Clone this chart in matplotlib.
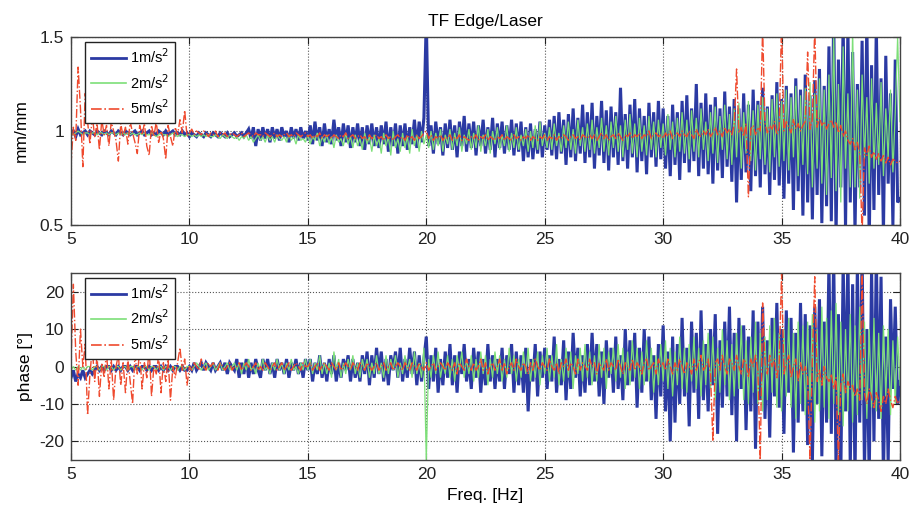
import numpy as np
import matplotlib
matplotlib.use("Agg")
import matplotlib.pyplot as plt

plt.rcParams['font.family'] = ['Liberation Sans', 'DejaVu Sans']
plt.rcParams['axes.unicode_minus'] = False

# Frequency axis: 5 .. 40 Hz in 0.1 Hz bins
freq = np.round(np.arange(350 + 1) * 0.1 + 5.0, 1)

series_labels = ['1m/s$^2$', '2m/s$^2$', '5m/s$^2$']

# Magnitude of the transfer function (mm/mm), one row per Hz
mag_1 = [
    0.98, 1.00, 0.97, 1.01, 0.98, 0.99, 1.00, 0.98, 1.00, 0.99,
    0.98, 1.00, 0.99, 0.98, 1.00, 0.99, 0.98, 1.00, 0.99, 0.98,
    1.00, 0.99, 0.98, 1.00, 0.99, 0.98, 0.99, 1.00, 0.98, 0.99,
    1.00, 0.98, 0.99, 1.00, 0.98, 0.99, 0.98, 1.00, 0.99, 0.98,
    1.00, 0.98, 0.99, 1.00, 0.98, 0.99, 0.98, 1.00, 0.98, 0.99,
    0.97, 0.99, 0.98, 0.97, 0.99, 0.98, 0.97, 0.99, 0.98, 0.97,
    0.99, 0.98, 0.97, 0.99, 0.98, 0.97, 0.99, 0.97, 0.98, 0.99,
    0.97, 0.98, 0.99, 0.97, 0.99, 1.01, 0.96, 1.02, 0.92, 1.01,
    0.95, 1.02, 0.96, 1.01, 0.94, 1.02, 0.96, 1.01, 0.95, 1.02,
    0.97, 1.00, 0.94, 1.02, 0.96, 1.01, 0.95, 1.02, 0.96, 1.00,
    0.95, 1.03, 0.93, 1.05, 0.95, 1.02, 0.92, 1.04, 0.94, 1.01,
    0.93, 1.06, 0.95, 1.02, 0.92, 1.04, 0.94, 1.03, 0.91, 1.02,
    0.94, 1.04, 0.92, 1.02, 0.90, 1.03, 0.93, 1.04, 0.92, 1.02,
    0.91, 1.03, 0.93, 1.05, 0.89, 1.02, 0.92, 1.04, 0.88, 1.03,
    0.92, 1.04, 0.90, 1.02, 0.93, 1.06, 0.91, 1.05, 0.94, 1.07,
    1.60, 0.92, 1.03, 0.88, 1.05, 0.93, 1.02, 0.87, 1.04, 0.91,
    1.06, 0.90, 1.03, 0.86, 1.05, 0.92, 1.08, 0.89, 1.04, 0.91,
    1.05, 0.87, 1.03, 0.92, 1.06, 0.88, 1.02, 0.90, 1.07, 0.86,
    1.04, 0.91, 1.05, 0.88, 1.03, 0.90, 1.06, 0.87, 1.04, 0.89,
    1.05, 0.84, 1.02, 0.86, 1.04, 0.85, 1.01, 0.88, 1.05, 0.86,
    1.03, 0.90, 1.06, 0.87, 1.08, 0.85, 1.10, 0.88, 1.06, 0.82,
    1.09, 0.86, 1.12, 0.84, 1.07, 0.88, 1.14, 0.83, 1.10, 0.86,
    1.15, 0.80, 1.08, 0.87, 1.16, 0.83, 1.11, 0.79, 1.13, 0.86,
    1.10, 0.82, 1.23, 0.84, 1.09, 0.80, 1.14, 0.86, 1.17, 0.78,
    1.12, 0.84, 1.08, 0.77, 1.15, 0.86, 1.10, 0.81, 1.16, 0.85,
    1.12, 0.80, 1.08, 0.76, 1.14, 0.82, 1.10, 0.74, 1.16, 0.83,
    1.19, 0.78, 1.12, 0.84, 1.25, 0.76, 1.15, 0.80, 1.20, 0.77,
    1.14, 0.72, 1.18, 0.79, 1.12, 0.75, 1.21, 0.81, 1.13, 0.73,
    1.17, 0.62, 1.12, 0.74, 1.20, 0.78, 1.14, 0.68, 1.22, 0.76,
    1.16, 0.70, 1.23, 0.77, 1.13, 0.66, 1.19, 0.74, 1.26, 0.71,
    1.17, 0.64, 1.24, 0.72, 1.20, 0.58, 1.28, 0.68, 1.22, 0.55,
    1.30, 0.62, 1.19, 0.53, 1.27, 0.66, 1.33, 0.51, 1.24, 0.60,
    1.45, 0.52, 1.62, 0.44, 1.38, 0.70, 1.58, 0.48, 1.55, 0.62,
    1.42, 0.46, 1.25, 0.70, 1.48, 0.55, 1.60, 0.40, 1.35, 0.58,
    1.56, 0.66, 1.28, 0.45, 1.40, 0.72, 1.20, 0.50, 1.38, 0.62,
    0.64,
]

mag_2 = [
    0.99, 0.98, 0.99, 1.00, 0.99, 0.98, 0.99, 0.99, 0.98, 0.99,
    0.99, 0.98, 0.99, 0.99, 0.98, 0.99, 0.98, 0.99, 0.99, 0.98,
    0.99, 0.98, 0.99, 0.98, 0.99, 0.98, 0.99, 0.98, 0.98, 0.99,
    0.98, 0.99, 0.98, 0.98, 0.99, 0.98, 0.97, 0.98, 0.99, 0.98,
    0.98, 0.97, 0.98, 0.99, 0.98, 0.97, 0.98, 0.98, 0.97, 0.98,
    0.98, 0.97, 0.98, 0.97, 0.98, 0.97, 0.98, 0.97, 0.98, 0.97,
    0.97, 0.98, 0.97, 0.96, 0.98, 0.97, 0.96, 0.98, 0.97, 0.96,
    0.97, 0.95, 0.97, 0.96, 0.98, 0.95, 0.97, 0.94, 0.96, 0.98,
    0.95, 0.97, 0.94, 0.98, 0.95, 0.97, 0.94, 0.98, 0.96, 0.95,
    0.97, 0.94, 0.98, 0.95, 0.97, 0.93, 0.98, 0.95, 0.96, 0.94,
    0.98, 0.93, 0.97, 0.95, 0.99, 0.92, 0.97, 0.94, 0.98, 0.93,
    0.97, 0.91, 0.98, 0.94, 0.96, 0.92, 0.99, 0.93, 0.97, 0.91,
    0.98, 0.92, 0.96, 0.90, 0.99, 0.93, 0.97, 0.89, 0.98, 0.92,
    0.96, 0.88, 0.99, 0.92, 0.97, 0.87, 1.00, 0.91, 0.96, 0.89,
    0.99, 0.91, 0.97, 0.88, 1.01, 0.92, 0.98, 0.89, 1.00, 0.93,
    0.98, 0.91, 1.00, 0.90, 0.99, 0.92, 1.01, 0.89, 0.98, 0.93,
    1.01, 0.90, 0.99, 0.92, 1.02, 0.89, 0.98, 0.93, 1.01, 0.90,
    0.99, 0.91, 1.03, 0.89, 0.98, 0.92, 1.01, 0.88, 1.00, 0.93,
    1.02, 0.90, 0.98, 0.92, 1.03, 0.89, 0.99, 0.91, 1.02, 0.90,
    0.98, 0.92, 1.01, 0.89, 1.00, 0.91, 1.03, 0.90, 1.05, 0.92,
    0.99, 0.91, 1.02, 0.90, 1.04, 0.92, 0.99, 0.89, 1.03, 0.91,
    1.05, 0.90, 1.01, 0.88, 1.06, 0.92, 1.02, 0.89, 1.04, 0.90,
    1.06, 0.88, 1.02, 0.91, 1.07, 0.89, 1.03, 0.87, 1.05, 0.91,
    1.08, 0.89, 1.03, 0.86, 1.06, 0.90, 1.09, 0.88, 1.04, 0.86,
    1.07, 0.89, 1.03, 0.87, 1.08, 0.90, 1.05, 0.86, 1.06, 0.91,
    1.04, 0.87, 1.09, 0.90, 1.05, 0.86, 1.07, 0.89, 1.10, 0.88,
    1.06, 0.85, 1.11, 0.89, 1.07, 0.86, 1.12, 0.90, 1.05, 0.84,
    1.10, 0.88, 1.13, 0.83, 1.08, 0.90, 1.14, 0.85, 1.09, 0.82,
    1.12, 0.86, 1.15, 0.80, 1.10, 0.88, 1.16, 0.84, 1.11, 0.79,
    1.14, 0.85, 1.18, 0.82, 1.12, 0.78, 1.17, 0.86, 1.20, 0.81,
    1.16, 0.84, 1.22, 0.79, 1.18, 0.86, 1.24, 0.76, 1.19, 0.82,
    1.23, 0.77, 1.26, 0.70, 1.20, 0.80, 1.28, 0.72, 1.22, 0.66,
    1.30, 0.75, 1.52, 0.68, 1.25, 0.62, 1.45, 0.80, 1.20, 0.70,
    1.55, 0.70, 1.22, 0.64, 1.30, 0.85, 1.18, 0.72, 1.28, 0.80,
    1.15, 0.82, 1.26, 0.76, 1.12, 0.85, 1.22, 0.78, 1.10, 1.50,
    1.05,
]

mag_5 = [
    0.82, 1.02, 0.95, 1.34, 1.12, 0.81, 1.20, 1.05, 0.93, 1.08,
    0.97, 1.04, 0.90, 1.06, 0.98, 1.03, 0.92, 1.05, 1.00, 0.95,
    0.84, 1.04, 0.97, 1.02, 0.93, 1.05, 0.99, 0.94, 0.88, 1.03,
    0.98, 1.04, 0.92, 0.87, 1.03, 0.97, 1.05, 0.94, 1.00, 0.96,
    0.85, 1.03, 0.97, 0.92, 1.02, 0.98, 1.06, 0.99, 1.11, 0.97,
    0.99, 1.01, 0.98, 1.00, 0.99, 0.98, 1.00, 0.99, 0.97, 0.99,
    0.98, 1.00, 0.97, 0.99, 0.98, 0.99, 0.97, 0.98, 0.99, 0.98,
    0.97, 0.98, 0.99, 0.97, 0.98, 0.99, 0.98, 0.97, 0.99, 0.98,
    0.98, 0.97, 0.99, 0.98, 0.97, 0.98, 0.99, 0.97, 0.98, 0.97,
    0.98, 0.99, 0.97, 0.98, 0.97, 0.99, 0.98, 0.97, 0.98, 0.99,
    0.97, 0.98, 0.96, 0.98, 0.97, 0.99, 0.96, 0.98, 0.97, 0.98,
    0.96, 0.98, 0.97, 0.96, 0.98, 0.97, 0.99, 0.96, 0.97, 0.98,
    0.96, 0.97, 0.98, 0.96, 0.97, 0.95, 0.98, 0.96, 0.97, 0.98,
    0.96, 0.97, 0.95, 0.98, 0.96, 0.97, 0.95, 0.97, 0.98, 0.96,
    0.97, 0.95, 0.98, 0.96, 0.97, 0.95, 0.98, 0.96, 0.97, 0.99,
    1.00, 0.96, 0.98, 0.95, 0.97, 0.96, 0.98, 0.95, 0.97, 0.96,
    0.98, 0.95, 0.97, 0.96, 0.98, 0.95, 0.97, 0.96, 0.95, 0.97,
    0.96, 0.98, 0.95, 0.97, 0.96, 0.98, 0.95, 0.97, 0.96, 0.95,
    0.97, 0.96, 0.98, 0.95, 0.97, 0.96, 0.95, 0.98, 0.96, 0.97,
    0.95, 0.97, 0.96, 0.98, 0.95, 0.97, 0.96, 0.95, 0.97, 0.96,
    0.98, 0.95, 0.97, 0.96, 0.98, 0.95, 0.97, 0.96, 0.98, 0.97,
    0.95, 0.97, 0.98, 0.96, 0.97, 0.95, 0.98, 0.97, 0.96, 0.98,
    0.96, 0.98, 0.95, 0.97, 0.99, 0.96, 0.98, 0.95, 0.97, 0.98,
    0.96, 0.99, 0.97, 0.95, 0.98, 0.97, 0.99, 0.96, 0.98, 0.97,
    0.99, 0.96, 0.98, 0.97, 1.00, 0.96, 0.98, 0.99, 0.97, 0.98,
    0.96, 0.99, 0.97, 1.00, 0.96, 0.98, 0.99, 0.97, 1.00, 0.98,
    0.97, 1.00, 0.98, 0.96, 1.01, 0.98, 0.97, 1.00, 0.98, 1.01,
    0.97, 0.99, 1.02, 0.98, 1.00, 0.97, 1.02, 0.99, 1.01, 0.98,
    1.03, 1.33, 0.99, 1.02, 0.97, 1.04, 0.65, 1.01, 1.03, 0.98,
    1.02, 1.00, 1.55, 1.04, 0.99, 1.03, 1.01, 1.05, 0.98, 1.02,
    1.58, 1.00, 1.05, 1.02, 0.99, 1.06, 1.01, 1.04, 1.00, 1.03,
    1.05, 1.42, 1.01, 1.06, 1.55, 1.02, 1.07, 1.03, 1.05, 1.01,
    1.04, 1.06, 1.02, 1.05, 0.99, 1.03, 0.97, 1.00, 0.95, 0.93,
    0.96, 0.90, 0.94, 0.88, 0.45, 0.91, 0.87, 0.92, 0.86, 0.89,
    0.85, 0.88, 0.84, 0.87, 0.83, 0.86, 0.82, 0.85, 0.84, 0.83,
    0.84,
]

# Phase of the transfer function (degrees), one row per Hz
phase_1 = [
    -3, -1, -4, -2, -3, -1, -3, -2, -1, -2,
    -1, 0, -1, 0, -1, 0, 0, -1, 0, -1,
    0, -1, 0, 0, -1, 0, -1, 0, 0, -1,
    0, 0, -1, 0, -1, 0, 0, -1, 0, -1,
    0, -1, 0, -1, 0, 0, -1, 0, -1, -1,
    0, -1, 1, -1, 0, 1, -1, 1, 0, -1,
    1, -1, 0, 1, -1, 1, -2, 1, 0, -1,
    2, -3, 1, -2, 2, -3, 1, -2, 2, -1,
    -3, 2, -1, 2, -2, 1, -3, 2, -1, 1,
    -2, 2, -3, 1, -1, 2, -2, 1, -3, 2,
    -1, 2, -4, 1, -2, 3, -3, 1, -4, 2,
    -2, 3, -4, 1, -3, 2, -1, 3, -4, 2,
    -3, 1, -4, 3, -2, 4, -5, 3, -3, 5,
    -2, 4, -4, 2, -5, 3, -1, 4, -3, 5,
    -4, 2, -3, 5, -2, 4, -5, 3, -4, 2,
    8, -6, 3, -4, 5, -7, 2, -5, 4, -3,
    6, -5, 3, -7, 4, -2, 6, -4, 2, -6,
    5, -3, 4, -7, 2, -5, 6, -4, 3, -6,
    2, -4, 5, -6, 3, -2, 6, -7, 4, -5,
    3, -7, 5, -12, 2, -4, 6, -8, 4, -3,
    5, -6, 3, -4, 8, -7, 2, -5, 7, -9,
    4, -6, 9, -3, 5, -8, 3, -7, 6, -5,
    9, -4, 6, -8, 4, -10, 7, -3, 5, -7,
    8, -6, 3, -9, 10, -5, 7, -4, 9, -11,
    5, -7, 10, -4, 8, -9, 3, -14, 6, -8,
    11, -12, 4, -20, 8, -15, 6, -10, 13, -8,
    5, -16, 12, -7, 9, -14, 15, -9, 6, -12,
    10, -5, 14, -18, 7, -11, 12, -8, 16, -13,
    9, -20, 13, -6, 11, -17, 8, -12, 15, -22,
    12, -9, 16, -14, 7, -19, 13, -8, 17, -11,
    10, -18, 15, -7, 13, -23, 9, -15, 17, -12,
    14, -21, 11, -26, 16, -10, 18, -24, 12, -15,
    28, -18, 30, -28, 14, -30, 28, -12, 30, -27,
    22, -30, 27, -15, 30, -28, 10, -30, 26, -20,
    30, -14, 24, -30, 8, -26, 18, -6, 16, -10,
    -4,
]

phase_2 = [
    -1, 0, -1, 0, -1, 0, -1, 0, 0, -1,
    0, 0, -1, 0, 0, -1, 0, 0, -1, 0,
    0, -1, 0, 0, -1, 0, 0, -1, 0, 0,
    -1, 0, 0, -1, 0, 0, -1, 0, 0, -1,
    0, 0, -1, 0, 0, -1, 0, 0, -1, 0,
    0, -1, 0, 1, 0, -1, 0, 1, -1, 0,
    1, -1, 0, 1, -1, 0, 1, -1, 0, 1,
    -1, 1, -2, 1, -1, 2, -1, 0, -2, 1,
    -1, 2, -1, 0, -2, 1, -1, 2, -1, 1,
    -2, 1, -1, 2, -1, 0, -2, 1, -1, 2,
    -1, 2, -2, 1, -1, 3, -2, 1, -2, 1,
    -3, 4, -1, 2, -3, 1, -2, 2, -1, 3,
    -2, 1, -3, 2, -1, 2, -3, 1, -2, 3,
    -2, 1, -3, 3, -2, 2, -1, 3, -3, 1,
    -2, 3, -1, 2, -3, 4, -2, 1, -3, 5,
    -25, 2, -3, 3, -2, 4, -3, 1, -2, 3,
    -3, 2, -4, 3, -1, 4, -3, 2, -2, 3,
    -4, 2, -3, 4, -2, 3, -5, 2, -3, 4,
    -2, 3, -4, 2, -3, 5, -2, 3, -4, 2,
    -3, 4, -2, 5, -4, 2, -3, 4, -5, 3,
    -2, 5, -4, 3, -3, 6, -5, 2, -4, 5,
    -3, 4, -6, 3, -2, 5, -4, 6, -3, 4,
    -5, 3, -4, 6, -3, 5, -6, 4, -2, 5,
    -4, 6, -3, 5, -6, 4, -5, 7, -3, 5,
    -6, 4, -5, 7, -4, 5, -7, 3, -5, 6,
    -4, 7, -6, 5, -8, 4, -5, 8, -6, 5,
    -7, 6, -4, 8, -6, 5, -8, 7, -5, 9,
    -6, 8, -9, 5, -7, 10, -5, 7, -9, 6,
    -8, 9, -6, 11, -9, 7, -10, 8, -7, 12,
    -10, 9, -12, 8, -9, 11, -7, 13, -11, 9,
    -12, 10, -8, 13, -11, 9, -14, 12, -10, 11,
    -13, 12, -9, 14, -15, 10, -12, 16, -11, 13,
    -14, 15, -10, 17, -13, 12, -16, 10, -12, 14,
    -15, 11, -13, 16, -9, 12, -14, 10, -11, 13,
    -12, 9, -14, 11, -8, 10, -13, 7, -10, 8,
    -5,
]

phase_5 = [
    1, 22, 4, -5, 10, 0, 6, -13, -2, 5,
    -4, 3, -8, 1, -3, 4, -6, 2, -9, 0,
    3, -5, 1, -7, 2, -4, -10, 3, -2, 4,
    -6, 1, -3, 5, -8, 0, -2, 3, -7, 1,
    -4, 2, -9, 0, -3, 1, 5, -1, 2, -5,
    0, -1, 1, 0, -1, 2, 0, -1, 1, 0,
    1, 0, -1, 1, 0, -1, 0, 1, -1, 0,
    0, 1, -1, 0, 1, 0, -1, 0, 1, -1,
    0, -1, 1, 0, -1, 0, 1, -1, 0, 1,
    -1, 0, 1, -1, 0, 1, 0, -1, 1, 0,
    0, 1, -1, 0, 1, -1, 0, 1, 0, -1,
    1, 0, -1, 1, -1, 0, 1, 0, -1, 1,
    0, -1, 1, 0, -1, 1, 0, -1, 0, 1,
    -1, 0, 1, -1, 0, 1, -1, 0, 1, 0,
    -1, 1, 0, -1, 1, 0, -1, 1, 0, -1,
    1, -1, 0, 1, -1, 0, 1, 0, -1, 1,
    0, -1, 1, -2, 1, 0, -1, 2, 0, -1,
    1, -1, 0, 2, -1, 1, -2, 0, 1, -1,
    0, 2, -1, 1, -2, 0, 1, -1, 2, 0,
    -1, 1, 0, -2, 1, -1, 2, 0, -1, 1,
    0, -1, 2, 0, -1, 1, -2, 1, 0, 2,
    -1, 1, 0, -2, 2, -1, 1, 0, -1, 2,
    0, 1, -2, 1, 0, -1, 2, -1, 1, 0,
    -1, 2, 0, -2, 1, 0, -1, 2, -1, 1,
    0, -2, 1, 2, -1, 0, 1, -2, 2, 0,
    1, -1, 2, 0, -2, 1, -1, 2, 0, -2,
    1, 0, -2, 2, -1, 1, 3, -1, 0, 2,
    -2, -20, 1, 2, -1, 3, 0, -2, 2, 1,
    -1, 3, 0, -2, 2, 1, -3, 2, 0, 3,
    -1, -25, 17, 1, -2, 3, 0, 2, -3, 1,
    25, -2, 1, 3, -3, 0, 2, -4, 1, -2,
    0, -3, -25, 2, 24, -4, -1, -5, 0, -3,
    -4, -2, -6, -3, -25, -5, -2, -7, -4, -6,
    -5, -8, -6, -9, 25, -7, -10, -6, -8, -11,
    -7, -9, -12, -8, -10, -6, -9, -11, -8, -10,
    -9,
]

colors = ['#2b3aa3', '#7ddf78', '#ef4a2e']
widths = [2.2, 0.9, 1.0]
styles = ['-', '-', '-.']

fig = plt.figure(figsize=(9.09, 5.07), dpi=100)
ax_mag = fig.add_axes([0.0781, 0.5562, 0.912, 0.3708])
ax_ph = fig.add_axes([0.0781, 0.0927, 0.912, 0.3688])

for ax, data in ((ax_mag, (mag_1, mag_2, mag_5)), (ax_ph, (phase_1, phase_2, phase_5))):
    for y, c, lw, ls, lab in zip(data, colors, widths, styles, series_labels):
        ax.plot(freq, y, color=c, linewidth=lw, linestyle=ls, label=lab,
                solid_joinstyle='miter')
    ax.set_xlim(5, 40)
    ax.set_xticks([5, 10, 15, 20, 25, 30, 35, 40])
    ax.grid(True, linestyle=':', color='#555555', linewidth=0.8)
    ax.set_axisbelow(True)
    ax.tick_params(direction='in', top=True, right=True, length=5,
                   labelsize=12.5, colors='#222222', pad=5)
    for sp in ax.spines.values():
        sp.set_color('#444444')
        sp.set_linewidth(1.0)
    leg = ax.legend(loc='upper left', bbox_to_anchor=(0.017, 0.975),
                    borderaxespad=0, fontsize=10.5, handlelength=2.4,
                    labelspacing=0.45, fancybox=False, framealpha=1,
                    edgecolor='#222222', borderpad=0.4, handletextpad=0.3)
    leg.get_frame().set_linewidth(1.0)
    for h in leg.get_lines():
        h.set_linewidth(2.0 if h.get_linewidth() > 1.5 else 1.2)

ax_mag.set_ylim(0.5, 1.5)
ax_mag.set_yticks([0.5, 1.0, 1.5])
ax_mag.set_yticklabels(['0.5', '1', '1.5'])
ax_mag.set_ylabel('mm/mm', fontsize=12.5, labelpad=8)
ax_mag.set_title('TF Edge/Laser', fontsize=12.5, pad=8)

ax_ph.set_ylim(-25, 25)
ax_ph.set_yticks([-20, -10, 0, 10, 20])
ax_ph.set_ylabel('phase [°]', fontsize=12.5, labelpad=4)
ax_ph.set_xlabel('Freq. [Hz]', fontsize=12.5, labelpad=4)

fig.savefig('out.png', dpi=100)
